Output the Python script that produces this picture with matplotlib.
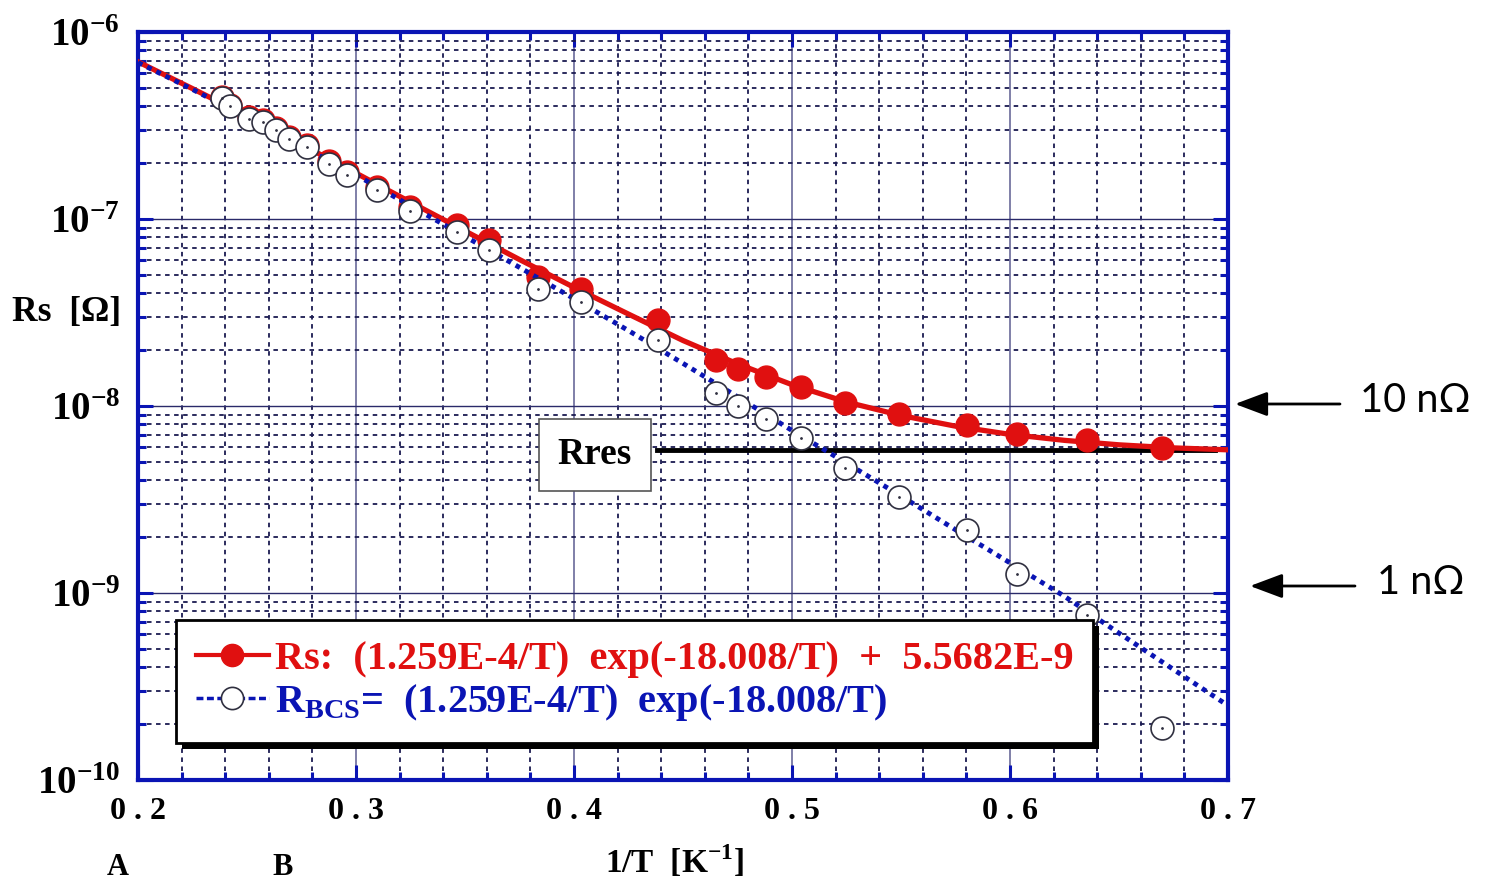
import matplotlib
matplotlib.use("Agg")
import matplotlib.pyplot as plt
from matplotlib.lines import Line2D
from matplotlib.patches import Rectangle
from matplotlib.transforms import IdentityTransform
from matplotlib.ticker import MultipleLocator, LogLocator, NullFormatter

plt.rcParams["font.family"] = ["Liberation Serif", "DejaVu Serif"]
plt.rcParams["font.weight"] = "bold"
plt.rcParams["mathtext.fontset"] = "custom"
plt.rcParams["mathtext.rm"] = "Liberation Serif:bold"
plt.rcParams["mathtext.bf"] = "Liberation Serif:bold"

# measured points, 1/T [1/K]
inv_t = [0.2385, 0.2424, 0.2509, 0.2573, 0.2635, 0.2694, 0.2774, 0.2876, 0.2957,
         0.3095, 0.3248, 0.3465, 0.3611, 0.3836, 0.4032, 0.4384, 0.4651, 0.4752,
         0.4881, 0.5041, 0.5243, 0.5492, 0.5801, 0.6032, 0.6352, 0.6697]
rs_meas = [4.48e-7, 4.08e-7, 3.50e-7, 3.37e-7, 3.05e-7, 2.73e-7, 2.48e-7, 2.03e-7, 1.78e-7,
           1.49e-7, 1.16e-7, 9.29e-8, 7.72e-8, 4.90e-8, 4.22e-8, 2.88e-8, 1.76e-8, 1.58e-8,
           1.43e-8, 1.26e-8, 1.04e-8, 9.06e-9, 7.91e-9, 7.06e-9, 6.58e-9, 5.94e-9]
rbcs_meas = [4.42e-7, 4.02e-7, 3.44e-7, 3.31e-7, 2.99e-7, 2.67e-7, 2.42e-7, 1.97e-7, 1.72e-7,
             1.43e-7, 1.108e-7, 8.55e-8, 6.83e-8, 4.22e-8, 3.58e-8, 2.25e-8, 1.178e-8, 1.0e-8,
             8.52e-9, 6.77e-9, 4.66e-9, 3.27e-9, 2.17e-9, 1.27e-9, 7.63e-10, 1.89e-10]

# fit curves
fit_x = [0.200, 0.225, 0.250, 0.275, 0.300, 0.325, 0.350, 0.375, 0.400, 0.425, 0.450,
         0.475, 0.500, 0.525, 0.550, 0.575, 0.600, 0.625, 0.650, 0.675, 0.700]
fit_rs = [6.93e-7, 4.98e-7, 3.55e-7, 2.50e-7, 1.76e-7, 1.23e-7, 8.63e-8, 6.07e-8, 4.31e-8,
          3.10e-8, 2.24e-8, 1.68e-8, 1.30e-8, 1.05e-8, 8.9e-9, 7.8e-9, 7.05e-9, 6.55e-9,
          6.2e-9, 5.97e-9, 5.83e-9]
fit_bcs = [6.87e-7, 4.93e-7, 3.49e-7, 2.45e-7, 1.72e-7, 1.175e-7, 8.07e-8, 5.51e-8, 3.75e-8,
           2.53e-8, 1.69e-8, 1.12e-8, 7.4e-9, 4.95e-9, 3.3e-9, 2.18e-9, 1.45e-9, 9.6e-10,
           6.1e-10, 3.9e-10, 2.5e-10]

rres_x = [0.438, 0.694]
rres = [5.85e-9, 5.85e-9]

xticks = [0.2, 0.3, 0.4, 0.5, 0.6, 0.7]
xlabels = ["0 . 2", "0 . 3", "0 . 4", "0 . 5", "0 . 6", "0 . 7"]
yticks = [1e-10, 1e-9, 1e-8, 1e-7, 1e-6]
ylabels = [r"$\mathbf{10^{-10}}$", r"$\mathbf{10^{-9}}$", r"$\mathbf{10^{-8}}$",
           r"$\mathbf{10^{-7}}$", r"$\mathbf{10^{-6}}$"]

red = "#e01010"
blue = "#0a14b4"
W, H = 1490, 885

fig = plt.figure(figsize=(W / 100, H / 100), dpi=100)
ax = fig.add_axes([138 / W, 1 - 780 / H, 1090 / W, 748 / H])
ax.set_yscale("log")
ax.set_xlim(0.2, 0.7)
ax.set_ylim(1e-10, 1e-6)

ax.plot(rres_x, rres, color="black", lw=3.5, zorder=2.5)
ax.plot(fit_x, fit_rs, color=red, lw=3.8, zorder=3)
ax.plot(inv_t, rs_meas, "o", ms=16.5, color=red, zorder=4)
ax.plot(fit_x, fit_bcs, color=blue, lw=3.5, ls=(0, (1, 1.1)), zorder=5)
ax.plot(inv_t, rbcs_meas, "o", ms=16.5, mfc="white", mec="#303040", mew=1.2, zorder=6)
ax.plot(inv_t, rbcs_meas, ".", ms=2, color="#303040", zorder=6)

ax.text(0.4095, 5.47e-9, "Rres", fontsize=27, ha="center", va="center", zorder=7,
        bbox=dict(boxstyle="square,pad=0.5", fc="white", ec="#555555", lw=1.2))

# axes styling
ax.set_xticks(xticks, xlabels)
ax.set_yticks(yticks, ylabels)
ax.xaxis.set_minor_locator(MultipleLocator(0.02))
ax.yaxis.set_minor_locator(LogLocator(base=10, subs=range(2, 10)))
ax.yaxis.set_minor_formatter(NullFormatter())
for s in ax.spines.values():
    s.set_color(blue)
    s.set_linewidth(3)
ax.tick_params(which="both", direction="in", top=True, right=True, color=blue, width=2.2)
ax.tick_params(which="major", length=11)
ax.tick_params(which="minor", length=6)
ax.tick_params(axis="x", which="major", labelsize=23, pad=12)
ax.tick_params(axis="y", which="major", labelsize=28, pad=13)
ax.set_axisbelow(True)
ax.grid(which="major", axis="x", color="#6a6a9a", lw=1.2, ls="-")
ax.grid(which="major", axis="y", color="#2a2a6a", lw=1)
ax.grid(which="minor", color="#1a1a50", ls=(0, (2.5, 2.5)), lw=1.3)

# legend
handles = [Line2D([], [], color=red, lw=3, marker="o", ms=16),
           Line2D([], [], color=blue, lw=2.5, ls=(0, (2, 1)), marker="o", ms=16,
                  mfc="white", mec="#303040", mew=1.2)]
labels = ["Rs:  (1.259E-4/T)  exp(-18.008/T)  +  5.5682E-9",
          r"R$_{\mathbf{BCS}}$=  (1.259E-4/T)  exp(-18.008/T)"]
leg = ax.legend(handles, labels, loc="lower left",
                bbox_to_anchor=(0.0349, 0.0495, 0.8413, 0.1645), mode="expand",
                fontsize=29, fancybox=False, edgecolor="black", framealpha=1,
                handlelength=1.8, handletextpad=0.15, borderpad=0.5,
                labelspacing=0.1, borderaxespad=0)
leg.get_frame().set_linewidth(2)
leg.set_zorder(20)
for t, c in zip(leg.get_texts(), [red, blue]):
    t.set_color(c)

fig.canvas.draw()
bb = leg.get_frame().get_window_extent()
ax.add_patch(Rectangle((bb.x0 + 6, bb.y0 - 6), bb.width, bb.height,
                       transform=IdentityTransform(), fc="black", ec="none",
                       clip_on=False, zorder=19))

# labels
fig.text(12 / W, 1 - 312 / H, "Rs  [Ω]", fontsize=25.5, va="center", ha="left")
fig.text(674 / W, 1 - 862 / H, r"1/T  [K$^{\mathbf{-1}}$]", fontsize=24,
         va="center", ha="center")
fig.text(118 / W, 1 - 853 / H, "A", fontsize=22, va="top", ha="center")
fig.text(283 / W, 1 - 853 / H, "B", fontsize=22, va="top", ha="center")

# right-hand notes
for y_px, x0, x1, tx, label in [(404, 1340, 1235, 1360, "10 nΩ"),
                                 (586, 1355, 1250, 1377, "1 nΩ")]:
    ax.annotate("", xy=(x1 / W, 1 - y_px / H), xycoords="figure fraction",
                xytext=(x0 / W, 1 - y_px / H), textcoords="figure fraction",
                arrowprops=dict(arrowstyle="-|>,head_length=0.8,head_width=0.3",
                                color="black", lw=2, mutation_scale=25,
                                shrinkA=0, shrinkB=0),
                annotation_clip=False)
    fig.text(tx / W, 1 - (y_px - 4) / H, label, fontsize=28.5, fontweight="normal",
             family=["Lato", "DejaVu Sans"], va="center", ha="left")

fig.savefig("out.png", dpi=100)
